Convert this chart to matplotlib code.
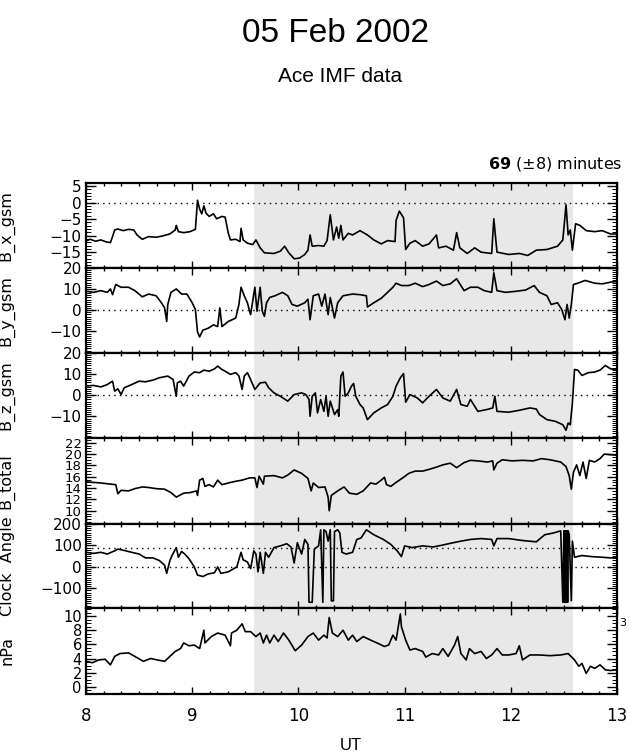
import matplotlib
matplotlib.use("Agg")
import matplotlib.pyplot as plt
from matplotlib import font_manager as fm
from matplotlib.ticker import MultipleLocator, FixedLocator

# ---- data (UT hours, value) ----
bx_t = [8.00, 8.04, 8.09, 8.14, 8.19, 8.23, 8.25, 8.27, 8.30, 8.35, 8.40, 8.45, 8.48, 8.53, 8.59, 8.66,
        8.72, 8.79, 8.84, 8.85, 8.87, 8.92, 8.98, 9.03, 9.05, 9.07, 9.09, 9.11, 9.13, 9.16, 9.20, 9.23,
        9.28, 9.31, 9.34, 9.36, 9.41, 9.45, 9.46, 9.48, 9.52, 9.57, 9.60, 9.64, 9.68, 9.77, 9.83, 9.87,
        9.91, 9.96, 10.01, 10.06, 10.09, 10.11, 10.13, 10.19, 10.24, 10.27, 10.30, 10.33, 10.36, 10.38,
        10.40, 10.42, 10.47, 10.51, 10.58, 10.65, 10.71, 10.78, 10.84, 10.91, 10.92, 10.95, 10.99, 11.01,
        11.05, 11.10, 11.17, 11.23, 11.30, 11.32, 11.39, 11.46, 11.49, 11.52, 11.59, 11.66, 11.72, 11.82,
        11.84, 11.87, 11.98, 12.08, 12.16, 12.24, 12.34, 12.44, 12.49, 12.52, 12.54, 12.56, 12.58, 12.61,
        12.65, 12.71, 12.79, 12.86, 12.94, 13.00]
bx_v = [-11.6, -11.1, -11.7, -11.3, -11.9, -12.1, -10.3, -8.3, -8.0, -8.5, -8.1, -8.3, -9.8, -11.1, -10.3, -10.5,
        -10.1, -9.5, -8.3, -6.9, -8.8, -9.1, -8.8, -8.1, 0.7, -2.0, -3.4, -1.0, -3.2, -4.2, -3.4, -4.9,
        -4.2, -4.4, -9.3, -11.3, -11.1, -11.8, -7.8, -11.3, -12.3, -12.7, -11.3, -13.7, -15.2, -15.4, -14.7, -13.2,
        -15.2, -17.0, -16.8, -15.7, -14.4, -9.8, -13.2, -13.0, -13.2, -11.5, -3.7, -11.3, -7.4, -10.8,
        -6.9, -11.3, -9.3, -9.8, -8.5, -9.8, -11.3, -12.5, -11.5, -11.8, -5.4, -2.6, -4.6, -14.2,
        -12.3, -11.5, -13.2, -12.5, -9.8, -13.7, -13.2, -14.4, -9.1, -13.7, -15.4, -13.7, -15.0, -15.4,
        -4.9, -15.0, -15.7, -15.4, -16.0, -14.4, -14.2, -13.2, -11.3, -0.7, -9.8, -8.3, -14.4, -6.4,
        -6.9, -8.5, -8.8, -8.5, -9.5, -9.5]

by_t = [8.00, 8.07, 8.14, 8.20, 8.23, 8.25, 8.28, 8.33, 8.40, 8.46, 8.53, 8.59, 8.66, 8.71, 8.74, 8.76,
        8.77, 8.80, 8.85, 8.90, 8.95, 9.00, 9.03, 9.05, 9.07, 9.10, 9.15, 9.20, 9.24, 9.26, 9.28, 9.34,
        9.41, 9.44, 9.46, 9.49, 9.52, 9.55, 9.59, 9.61, 9.64, 9.66, 9.68, 9.70, 9.73, 9.78, 9.85, 9.90,
        9.94, 9.99, 10.06, 10.09, 10.11, 10.14, 10.19, 10.22, 10.25, 10.28, 10.30, 10.34, 10.37, 10.42,
        10.51, 10.58, 10.64, 10.65, 10.71, 10.78, 10.84, 10.89, 10.92, 10.97, 11.04, 11.10, 11.17, 11.23,
        11.30, 11.36, 11.43, 11.49, 11.56, 11.62, 11.69, 11.75, 11.82, 11.84, 11.87, 11.95, 12.05, 12.14,
        12.22, 12.27, 12.34, 12.38, 12.44, 12.48, 12.51, 12.53, 12.55, 12.57, 12.59, 12.63, 12.70, 12.79,
        12.86, 12.94, 13.00]
by_v = [8.9, 8.4, 9.2, 8.4, 10.0, 7.3, 12.1, 10.8, 10.8, 9.2, 6.3, 7.6, 6.8, 3.5, 1.1, -5.3,
        2.7, 8.4, 10.0, 7.6, 7.6, 3.5, 0.3, -10.2, -12.6, -9.4, -8.5, -6.9, -7.7, 1.1, -7.7, -5.3,
        -3.7, 2.7, 10.8, 6.8, 3.5, -2.1, 10.8, -0.5, 10.8, -0.5, -2.9, 3.5, 6.0, 6.8, 8.4, 6.8,
        2.7, 1.9, 3.5, 5.2, -4.5, 6.8, 7.6, 1.9, 7.6, -2.1, 6.0, -3.7, 3.5, 6.8,
        7.6, 7.3, 6.8, 1.5, 3.5, 5.6, 8.4, 10.8, 12.7, 11.6, 11.6, 12.7, 11.1, 12.1,
        13.7, 11.6, 12.4, 14.8, 9.2, 10.8, 10.8, 9.2, 8.4, 17.6, 9.2, 8.4, 8.9, 9.5,
        11.6, 8.4, 6.8, 2.7, 3.5, 0.3, -4.5, 2.7, -3.7, 2.7, 12.1, 12.7, 14.0, 12.7,
        12.4, 13.2, 13.5]

bz_t = [8.00, 8.07, 8.14, 8.20, 8.25, 8.27, 8.30, 8.33, 8.36, 8.43, 8.50, 8.56, 8.63, 8.69, 8.77, 8.82,
        8.85, 8.86, 8.89, 8.92, 8.97, 9.02, 9.07, 9.11, 9.16, 9.21, 9.24, 9.28, 9.31, 9.36, 9.41, 9.44,
        9.47, 9.49, 9.52, 9.55, 9.59, 9.64, 9.69, 9.72, 9.77, 9.83, 9.90, 9.96, 10.03, 10.07, 10.10, 10.11,
        10.13, 10.16, 10.18, 10.21, 10.24, 10.26, 10.28, 10.30, 10.34, 10.37, 10.38, 10.40, 10.42, 10.44,
        10.47, 10.50, 10.52, 10.54, 10.58, 10.61, 10.65, 10.71, 10.78, 10.84, 10.89, 10.92, 10.96, 10.99,
        11.01, 11.05, 11.12, 11.17, 11.23, 11.30, 11.36, 11.43, 11.49, 11.53, 11.59, 11.62, 11.69, 11.77,
        11.83, 11.85, 11.87, 11.98, 12.08, 12.18, 12.24, 12.27, 12.34, 12.42, 12.49, 12.52, 12.54, 12.56,
        12.58, 12.60, 12.63, 12.67, 12.73, 12.79, 12.84, 12.89, 12.94, 13.00]
bz_v = [4.3, 4.6, 3.9, 5.0, 6.6, 1.9, 3.0, 0.3, 3.5, 5.0, 6.6, 6.3, 7.1, 8.2, 9.0, 7.4,
        -0.5, 5.8, 6.6, 4.3, 9.0, 10.9, 10.6, 11.8, 11.3, 12.4, 13.7, 12.1, 11.3, 9.8, 10.6, 9.0,
        2.7, 9.0, 10.6, 7.4, 2.7, 5.8, 6.1, 3.5, 1.1, -0.5, -2.8, 0.3, 1.1, 0.3, -2.0, -9.9,
        -0.5, 1.1, -8.3, -2.0, -7.6, -0.5, -9.9, -2.8, -9.1, -6.8, -9.9, 9.0, 10.9, -0.5,
        1.1, 4.3, 5.5, -0.5, -4.4, -6.0, -11.5, -8.3, -6.0, -4.4, -0.5, 4.3, 8.2, 10.2,
        -3.3, 0.3, -1.3, -3.6, -0.5, 2.7, -1.3, -2.8, 2.7, -4.4, -5.2, -2.0, -7.6, -6.8,
        -6.0, -0.5, -7.6, -8.0, -7.1, -6.0, -6.5, -9.1, -11.5, -12.3, -13.9, -16.5, -13.1, -13.9,
        -3.6, 12.1, 11.8, 9.3, 10.6, 10.9, 11.8, 14.0, 12.4, 12.0]

bt_t = [8.00, 8.07, 8.14, 8.23, 8.28, 8.30, 8.33, 8.40, 8.46, 8.53, 8.59, 8.66, 8.74, 8.80, 8.85, 8.92,
        8.98, 9.04, 9.05, 9.07, 9.10, 9.12, 9.16, 9.20, 9.24, 9.28, 9.34, 9.41, 9.47, 9.54, 9.59, 9.61,
        9.63, 9.67, 9.68, 9.77, 9.85, 9.90, 9.96, 10.03, 10.09, 10.12, 10.14, 10.19, 10.25, 10.28, 10.29,
        10.31, 10.37, 10.43, 10.48, 10.55, 10.61, 10.68, 10.73, 10.78, 10.81, 10.83, 10.87, 10.92, 10.99,
        11.04, 11.10, 11.17, 11.23, 11.30, 11.36, 11.43, 11.49, 11.56, 11.62, 11.69, 11.78, 11.83, 11.84,
        11.87, 11.92, 12.01, 12.11, 12.21, 12.29, 12.37, 12.47, 12.52, 12.55, 12.57, 12.59, 12.62, 12.65,
        12.68, 12.71, 12.74, 12.79, 12.84, 12.88, 12.94, 13.00]
bt_v = [15.1, 15.0, 14.9, 14.7, 14.6, 13.0, 13.6, 13.5, 13.9, 14.2, 14.1, 13.9, 13.8, 13.2, 12.4, 13.1,
        13.2, 13.5, 12.7, 15.4, 15.7, 14.3, 14.6, 14.2, 15.4, 14.6, 14.9, 15.2, 15.4, 15.8, 15.8, 14.1,
        16.1, 14.7, 16.1, 16.2, 15.8, 16.3, 17.2, 16.6, 15.7, 13.5, 14.9, 14.1, 14.2, 12.4, 10.0,
        12.7, 13.5, 14.2, 13.1, 12.9, 13.5, 14.9, 14.7, 15.4, 15.9, 14.6, 14.3, 15.0, 15.9,
        16.6, 17.0, 17.0, 17.3, 17.7, 18.1, 18.4, 17.6, 18.5, 18.9, 18.8, 18.6, 18.8, 17.2,
        18.4, 19.0, 18.8, 18.9, 18.8, 19.2, 19.0, 18.6, 17.8, 16.2, 13.8, 16.8, 18.1, 16.2,
        18.6, 15.7, 18.9, 18.6, 19.2, 20.0, 19.9, 19.8]

ca_t = [8.00, 8.07, 8.14, 8.20, 8.27, 8.30, 8.35, 8.43, 8.50, 8.56, 8.63, 8.69, 8.74, 8.76, 8.79, 8.81,
        8.85, 8.87, 8.90, 8.93, 8.97, 9.02, 9.05, 9.10, 9.15, 9.21, 9.24, 9.27, 9.34, 9.42, 9.46, 9.48,
        9.52, 9.55, 9.58, 9.60, 9.62, 9.64, 9.67, 9.69, 9.72, 9.77, 9.83, 9.89, 9.93, 9.96, 9.99, 10.03,
        10.06, 10.09, 10.10, 10.13, 10.15, 10.19, 10.21, 10.23, 10.24, 10.26, 10.28, 10.30, 10.31, 10.33,
        10.34, 10.37, 10.39, 10.41, 10.45, 10.51, 10.55, 10.59, 10.64, 10.71, 10.80, 10.87, 10.93, 10.97,
        11.00, 11.07, 11.17, 11.27, 11.36, 11.46, 11.53, 11.62, 11.72, 11.82, 11.84, 11.87, 11.98, 12.11,
        12.24, 12.32, 12.40, 12.47, 12.49, 12.50, 12.505, 12.51, 12.515, 12.52, 12.525, 12.53, 12.535, 12.54,
        12.55, 12.57, 12.58, 12.60, 12.67, 12.76, 12.86, 12.94, 13.00]
ca_v = [68, 63, 68, 60, 75, 83, 78, 68, 60, 42, 42, 30, 8, -30, 30, 53,
        90, 45, 72, 60, 38, 0, -38, -45, -33, -27, 0, -30, -23, 0, 68, 33,
        23, -8, 75, 60, -23, 68, -30, 68, 45, 90, 98, 108, 93, 18, 113, 60,
        128, 105, -165, -165, 83, 98, 173, -165, 173, 165, 120, 173, -158, -158,
        165, 173, 158, 68, 60, 68, 128, 135, 173, 150, 128, 105, 75, 48,
        98, 90, 98, 93, 102, 113, 120, 128, 132, 128, 98, 132, 132, 123,
        117, 150, 158, 168, -165, 168, -165, 168, -165, 168, -165, 168, -165, 168,
        150, -158, 120, 45, 53, 48, 45, 42, 42]

np_t = [8.00, 8.06, 8.12, 8.18, 8.23, 8.27, 8.32, 8.40, 8.46, 8.54, 8.61, 8.67, 8.74, 8.79, 8.84, 8.89,
        8.92, 8.97, 9.02, 9.07, 9.11, 9.12, 9.18, 9.24, 9.31, 9.36, 9.37, 9.42, 9.47, 9.50, 9.55, 9.60,
        9.64, 9.67, 9.70, 9.73, 9.77, 9.81, 9.86, 9.91, 9.97, 10.03, 10.09, 10.14, 10.19, 10.24, 10.27,
        10.29, 10.32, 10.37, 10.42, 10.47, 10.51, 10.55, 10.61, 10.68, 10.74, 10.81, 10.85, 10.89, 10.92,
        10.96, 10.97, 11.01, 11.05, 11.10, 11.17, 11.20, 11.26, 11.32, 11.36, 11.41, 11.47, 11.50, 11.53,
        11.58, 11.61, 11.66, 11.72, 11.77, 11.82, 11.87, 11.92, 11.98, 12.05, 12.08, 12.11, 12.18, 12.27,
        12.37, 12.47, 12.54, 12.60, 12.64, 12.67, 12.71, 12.75, 12.79, 12.84, 12.89, 12.94, 13.00]
np_v = [3.6, 3.4, 3.8, 3.9, 3.1, 4.3, 4.7, 4.8, 4.3, 3.6, 4.0, 3.8, 3.6, 4.3, 5.0, 5.4,
        6.2, 5.8, 5.9, 5.4, 8.0, 6.2, 7.1, 7.6, 7.3, 5.8, 7.6, 8.0, 8.9, 7.8, 7.8, 7.1,
        7.6, 6.2, 7.3, 6.2, 7.3, 6.4, 7.6, 6.6, 5.1, 5.9, 7.1, 7.6, 6.6, 7.3, 6.9,
        9.8, 7.6, 7.1, 8.0, 6.6, 7.3, 6.4, 7.1, 6.6, 6.2, 5.7, 5.9, 7.3, 6.6,
        10.3, 8.5, 6.6, 5.2, 5.4, 5.0, 4.2, 4.7, 4.5, 5.4, 4.3, 5.9, 7.1, 4.7,
        3.8, 5.4, 4.7, 5.0, 4.0, 4.5, 5.4, 4.5, 4.5, 4.7, 5.8, 3.8, 4.5, 4.5,
        4.4, 4.5, 4.7, 3.8, 2.9, 3.3, 1.9, 2.9, 2.6, 3.1, 2.4, 2.3, 2.4]

shade_start, shade_end = 9.58, 12.59

panels = [
    # label, t, v, ylim, labelled ticks, minor step, dotted lines, tick label size
    ("B_x_gsm", bx_t, bx_v, (-19.7, 6.0), [-15, -10, -5, 0, 5], 1, [0], 11),
    ("B_y_gsm", by_t, by_v, (-20, 20), [-10, 0, 10, 20], 1, [0], 11),
    ("B_z_gsm", bz_t, bz_v, (-20, 20), [-10, 0, 10, 20], 1, [0], 11),
    ("B_total", bt_t, bt_v, (7.65, 22.9), [10, 12, 14, 16, 18, 20, 22], 0.5, [], 9.5),
    ("Clock  Angle", ca_t, ca_v, (-193, 200), [-100, 0, 100, 200], 10, [0, 90], 11),
    ("nPa", np_t, np_v, (-0.95, 11.1), [0, 2, 4, 6, 8, 10], 0.5, [], 10.5),
]

# condensed face for the big title if it exists, else plain Liberation Sans
installed = {f.name for f in fm.fontManager.ttflist}
if "Liberation Sans Narrow" in installed:
    title_font, title_size, ut_size = "Liberation Sans Narrow", 28, 13
else:
    title_font, title_size, ut_size = "Liberation Sans", 24, 12

W, H = 630, 753
fig = plt.figure(figsize=(W / 100, H / 100), dpi=100)
plt.rcParams["font.family"] = ["DejaVu Sans"]

left_px, right_px = 86, 617
edges = [182.7, 267.7, 352.7, 437.7, 524.0, 608.3, 693.5]

for i, (label, t, v, ylim, yticks, minor, dots, lsize) in enumerate(panels):
    top, bot = edges[i], edges[i + 1]
    ax = fig.add_axes([left_px / W, 1 - bot / H, (right_px - left_px) / W, (bot - top) / H])
    ax.axvspan(shade_start, shade_end, color="#e8e8e8", lw=0, zorder=0)
    for d in dots:
        ax.axhline(d, color="black", lw=1.0, ls=(0, (1, 3)), zorder=1)
    ax.plot(t, v, color="black", lw=1.2, zorder=2)
    ax.set_xlim(8, 13)
    ax.set_ylim(*ylim)
    ax.xaxis.set_major_locator(MultipleLocator(1))
    ax.xaxis.set_minor_locator(MultipleLocator(1 / 6))
    ax.yaxis.set_major_locator(FixedLocator(yticks))
    ax.yaxis.set_minor_locator(MultipleLocator(minor))
    ax.tick_params(which="both", direction="in", top=True, right=True, width=1.0)
    ax.tick_params(axis="y", which="major", length=7, labelsize=lsize, pad=3)
    ax.tick_params(axis="y", which="minor", length=3.5, width=0.7)
    ax.tick_params(axis="x", which="major", length=5)
    ax.tick_params(axis="x", which="minor", length=2.5)
    for s in ax.spines.values():
        s.set_linewidth(1.6)
    ax.set_ylabel(label, fontsize=11.5)
    ax.yaxis.set_label_coords(-0.134, 0.5)
    if i < len(panels) - 1:
        ax.tick_params(axis="x", labelbottom=False)
    else:
        ax.tick_params(axis="x", labelsize=12, pad=10)

fig.text(335 / W, 1 - 33 / H, "05 Feb 2002", fontsize=title_size, family=title_font,
         ha="center", va="center")
fig.text(340 / W, 1 - 77 / H, "Ace IMF data", fontsize=15, family="Liberation Sans",
         ha="center", va="center")
fig.text(622 / W, 1 - 164 / H, r"$\mathbf{69}$ (±8) minutes", fontsize=11.5,
         ha="right", va="center")
fig.text(351 / W, 1 - 745 / H, "UT", fontsize=ut_size, family=title_font,
         ha="center", va="center")
fig.text(619 / W, 1 - 623 / H, "3", fontsize=8, ha="left", va="center")

fig.savefig("out.png", dpi=100)
